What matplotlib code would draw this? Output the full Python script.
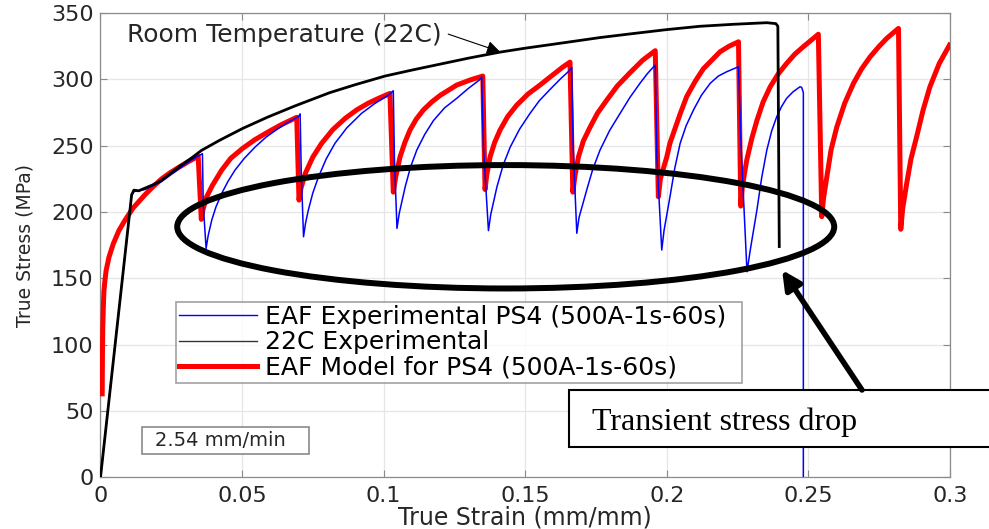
import matplotlib
matplotlib.use("Agg")
import matplotlib.pyplot as plt
from matplotlib.lines import Line2D
from matplotlib.patches import Ellipse, Rectangle

# ---- 22C (room temperature) experimental curve ----
rt_strain = [0.0, 0.0110, 0.0118, 0.0135, 0.0157, 0.0185, 0.0216, 0.0250, 0.0280,
             0.0320, 0.0357, 0.0420, 0.0502, 0.0590, 0.0687, 0.0810, 0.0900, 0.1005,
             0.1100, 0.1200, 0.1300, 0.1410, 0.1500, 0.1600, 0.1764, 0.1880, 0.2000,
             0.2117, 0.2235, 0.2353, 0.2385, 0.2392, 0.2397]
rt_stress = [0, 213, 216.5, 216, 218, 220.5, 224, 229.5, 234.5,
             240.5, 246.5, 254, 263, 271.5, 280, 290, 296, 302.5,
             307, 311.5, 316, 320.5, 323.5, 326.5, 331.5, 334.5, 337.5,
             340, 341.5, 342.7, 342, 340, 174]

# ---- EAF experimental PS4 (500A-1s-60s) ----
exp_strain = [0.0, 0.0110, 0.0119, 0.0157, 0.0216, 0.0280, 0.0320, 0.0360, 0.0363, 0.0373,
              0.0380, 0.0393, 0.0408, 0.0428, 0.0450, 0.0475, 0.0508, 0.0546, 0.0585,
              0.0628, 0.0665, 0.0699, 0.0705, 0.0709, 0.0717,
              0.0724, 0.0734, 0.0750, 0.0770, 0.0797, 0.0828, 0.0870, 0.0922, 0.0970,
              0.1017, 0.1034, 0.1038, 0.1047,
              0.1055, 0.1076, 0.1095, 0.1117, 0.1145, 0.1176, 0.1215, 0.1258, 0.1298,
              0.1338, 0.1346, 0.1352, 0.1370,
              0.1378, 0.1400, 0.1422, 0.1447, 0.1480, 0.1517, 0.1550, 0.1588, 0.1625,
              0.1658, 0.1664, 0.1669, 0.1682,
              0.1690, 0.1717, 0.1738, 0.1764, 0.1798, 0.1835, 0.1870, 0.1905, 0.1930,
              0.1953, 0.1959, 0.1965, 0.1982,
              0.1990, 0.2011, 0.2028, 0.2047, 0.2068, 0.2094, 0.2122, 0.2153, 0.2182,
              0.2211, 0.2253, 0.2262, 0.2283,
              0.2295, 0.2318, 0.2335, 0.2353, 0.2370, 0.2388, 0.2405, 0.2423, 0.2445,
              0.2470, 0.2476, 0.2482, 0.2482]
exp_stress = [0, 213, 215.5, 217, 223, 233, 239, 244, 205, 172.6,
              182, 194, 204, 214, 223, 231.6, 240.5, 249, 256.5,
              263, 268, 271.8, 274, 230, 181.4,
              191.5, 201.5, 214.5, 226.6, 240, 251.8, 263.5, 274.4, 282,
              288, 291.4, 240, 187.7,
              199, 219, 234, 246.7, 258.5, 269, 278.5, 285.7, 293,
              299.5, 302, 250, 186,
              198, 219, 235.5, 249, 262.5, 274.4, 284, 292.5, 300.5,
              307, 309, 250, 184,
              196, 216.6, 232, 246.7, 261.5, 274.4, 286.5, 297, 304,
              309.5, 310.8, 240, 171.4,
              186, 211.5, 233, 251.8, 265, 276.9, 288, 297, 302.5,
              305.7, 309.5, 250, 155,
              172, 201.5, 226, 246.7, 261, 271.8, 279.5, 285.7, 290.5,
              294.4, 294, 290, 0]

# ---- EAF model for PS4 (500A-1s-60s) ----
mod_strain = [0.0006, 0.0007, 0.0008, 0.0010, 0.0012, 0.0016, 0.0020, 0.0030, 0.0045,
              0.0065, 0.0087, 0.0115, 0.0157, 0.0185, 0.0216, 0.0245, 0.0275, 0.0310,
              0.0345, 0.0356,
              0.0362, 0.0375, 0.0395, 0.0428, 0.0460, 0.0502, 0.0545, 0.0593, 0.0640,
              0.0693, 0.0701,
              0.0708, 0.0723, 0.0750, 0.0781, 0.0820, 0.0864, 0.0905, 0.0945, 0.0985,
              0.1022, 0.1034,
              0.1042, 0.1058, 0.1075, 0.1093, 0.1115, 0.1140, 0.1170, 0.1200, 0.1258,
              0.1305, 0.1350, 0.1358,
              0.1364, 0.1376, 0.1392, 0.1411, 0.1438, 0.1470, 0.1510, 0.1552, 0.1595,
              0.1634, 0.1658, 0.1668,
              0.1676, 0.1688, 0.1705, 0.1729, 0.1755, 0.1788, 0.1825, 0.1870, 0.1915,
              0.1959, 0.1970,
              0.1977, 0.2000, 0.2011, 0.2047, 0.2070, 0.2100, 0.2129, 0.2188, 0.2220,
              0.2253, 0.2261,
              0.2267, 0.2282, 0.2300, 0.2318, 0.2340, 0.2365, 0.2393, 0.2423, 0.2452,
              0.2482, 0.2535, 0.2547,
              0.2553, 0.2565, 0.2580, 0.2600, 0.2628, 0.2659, 0.2688, 0.2718, 0.2748,
              0.2777, 0.2818, 0.2826,
              0.2833, 0.2847, 0.2862, 0.2882, 0.2905, 0.2929, 0.2962, 0.2998]
mod_stress = [63, 95, 112, 128, 140, 149, 156, 166, 176,
              186, 194, 203, 213, 219, 225, 229.5, 233.5, 238,
              242, 194.5,
              202, 211.5, 220, 231.6, 240.5, 248, 254.5, 260.5, 266,
              271.4, 209,
              218, 229, 241.5, 251.8, 262, 270.6, 277, 282, 286,
              289.4, 215,
              226, 241.7, 252.5, 261.8, 270, 276.9, 283, 288, 295.7,
              299.5, 302.5, 217,
              228, 241.7, 252.5, 261.8, 272, 280.6, 289, 295.7, 303,
              309.5, 313, 215,
              228, 241.7, 253.5, 264, 274.5, 284.4, 295, 305, 314.5,
              321.6, 211.5,
              225, 241.7, 252, 274, 287, 298.5, 308, 320.8, 325,
              328.3, 204.5,
              220, 239, 255.5, 269, 283, 294.4, 304, 312, 319,
              324.6, 334, 196.5,
              210, 226.6, 247, 264, 282, 297, 308, 317, 324.5,
              331, 338.4, 187,
              203, 221.6, 240, 256.7, 277, 294.4, 312, 325.8]

x_ticks = [0, 0.05, 0.1, 0.15, 0.2, 0.25, 0.3]
x_tick_labels = ["0", "0.05", "0.1", "0.15", "0.2", "0.25", "0.3"]
y_ticks = [0, 50, 100, 150, 200, 250, 300, 350]

legend_labels = ["EAF Experimental PS4 (500A-1s-60s)",
                 "22C Experimental",
                 "EAF Model for PS4 (500A-1s-60s)"]

plt.rcParams["font.family"] = ["DejaVu Sans"]

fig = plt.figure(figsize=(9.89, 5.29), dpi=100)
ax = fig.add_axes([0.1016, 0.0975, 0.859, 0.8779])

ax.plot(mod_strain, mod_stress, color="#ff0000", lw=3.6, zorder=3)
ax.plot(exp_strain, exp_stress, color="#0000ff", lw=1.1, zorder=4)
ax.plot(rt_strain, rt_stress, color="black", lw=2.0, zorder=5)

ax.set_xlim(0, 0.3)
ax.set_ylim(0, 350)
ax.set_xticks(x_ticks)
ax.set_xticklabels(x_tick_labels)
ax.set_yticks(y_ticks)
ax.grid(True, color="#e6e6e6", lw=0.9)
ax.set_axisbelow(True)
for sp in ax.spines.values():
    sp.set_color("#8a8a8a")
    sp.set_linewidth(0.9)
ax.tick_params(direction="in", length=5, width=0.8, color="#8a8a8a",
               top=True, right=True, labelsize=16, labelcolor="#262626")
ax.tick_params(axis="x", pad=6)
ax.tick_params(axis="y", pad=5)

ax.set_xlabel("True Strain (mm/mm)", fontsize=17, color="#262626", labelpad=0)
ax.set_ylabel("True Stress (MPa)", fontsize=13.5, color="#262626", labelpad=12)

# legend
handles = [Line2D([], [], color="#0000ff", lw=1.0),
           Line2D([], [], color="#333333", lw=1.0),
           Line2D([], [], color="#ff0000", lw=3.6)]
leg = ax.legend(handles, legend_labels, loc="upper left",
                bbox_to_anchor=(0.0889, 0.1968, 0.6662, 0.1809), mode="expand",
                borderaxespad=0, fontsize=18, frameon=True, fancybox=False,
                handlelength=3.1, handletextpad=0.35, labelspacing=0.05,
                borderpad=0.12)
leg.get_frame().set_edgecolor("#8a8a8a")
leg.get_frame().set_linewidth(1.2)
leg.set_zorder(6)

# crosshead-speed box
ax.add_patch(Rectangle((0.0489, 0.0504), 0.1965, 0.0581, transform=ax.transAxes,
                       facecolor="white", edgecolor="#8a8a8a", lw=1.2, zorder=6))
ax.text(0.0642, 0.0795, "2.54 mm/min", transform=ax.transAxes, fontsize=14,
        va="center", ha="left", color="#262626", zorder=7)

# room temperature label with arrow
ax.text(0.0094, 333.4, "Room Temperature (22C)", fontsize=18, va="center",
        ha="left", color="#262626", zorder=7)
ax.annotate("", xy=(0.1411, 320.8), xytext=(0.1228, 334.1),
            arrowprops=dict(arrowstyle="-|>", color="black", lw=0.8,
                            mutation_scale=20, shrinkA=0, shrinkB=0), zorder=7)

# ellipse marking the transient stress drops
ax.add_patch(Ellipse((0.1431, 188.9), 0.232, 93.0, fill=False, edgecolor="black",
                     lw=4.3, zorder=8, clip_on=False))

# callout box and arrow
ax.add_patch(Rectangle((0.5753, 0.155), 0.45, 0.1078, transform=fig.transFigure,
                       facecolor="white", edgecolor="black", lw=1.5, zorder=10,
                       clip_on=False))
ax.text(0.5986, 0.187, "Transient stress drop", transform=fig.transFigure,
        family="Liberation Serif", fontsize=23, va="baseline", ha="left",
        color="black", zorder=11)
ax.annotate("", xy=(0.2407, 156.3), xytext=(0.2689, 65.9),
            arrowprops=dict(arrowstyle="-|>", color="black", lw=4.0,
                            mutation_scale=28, shrinkA=0, shrinkB=0),
            annotation_clip=False, zorder=12)

fig.savefig("out.png", dpi=100)
